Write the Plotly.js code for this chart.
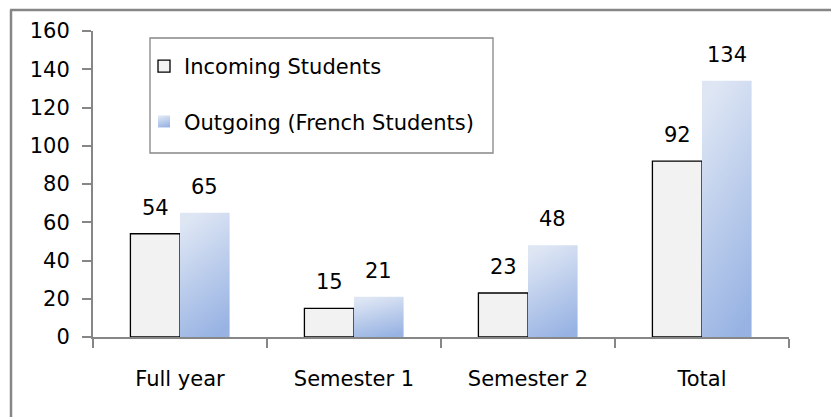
<!DOCTYPE html>
<html>
<head>
<meta charset="utf-8">
<script src="https://cdn.plot.ly/plotly-3.0.1.min.js"></script>
<style>
html,body{margin:0;padding:0;background:#fff;}
#chart{width:831px;height:417px;}
</style>
</head>
<body>
<div id="chart"></div>
<script>
const categories = ["Full year", "Semester 1", "Semester 2", "Total"];
const incoming = [54, 15, 23, 92];
const outgoing = [65, 21, 48, 134];
const seriesNames = ["Incoming Students", "Outgoing (French Students)"];
const yTicks = [0, 20, 40, 60, 80, 100, 120, 140, 160];

const FONT = "'DejaVu Sans', sans-serif";
const FS = 21;
const AXIS_GRAY = "#868686";

const traces = [
  {
    type: "bar", name: seriesNames[0], x: categories, y: incoming,
    legendgroup: "a",
    marker: {color: "#f2f2f2", line: {color: "#000000", width: 1.3}},
    hoverinfo: "skip"
  },
  {
    type: "bar", name: seriesNames[1], x: categories, y: outgoing,
    legendgroup: "b",
    marker: {color: "#bccbec", line: {width: 0}},
    hoverinfo: "skip"
  }
];

const annotations = [];
const barShift = 24.75;
[incoming, outgoing].forEach((vals, si) => {
  vals.forEach((v, i) => {
    annotations.push({
      x: categories[i], y: v, xref: "x", yref: "y",
      text: String(v), showarrow: false,
      yanchor: "bottom", yshift: 12,
      xshift: si === 0 ? -barShift : barShift,
      font: {family: FONT, size: FS, color: "#000"}
    });
  });
});

const L = 93, R = 789, T = 31, B = 337;
const px2x = p => (p - L) / (R - L);
const px2y = p => (B - p) / (B - T);

const layout = {
  width: 831, height: 417,
  margin: {l: L, r: 831 - R, t: T, b: 417 - B},
  paper_bgcolor: "#ffffff", plot_bgcolor: "#ffffff",
  font: {family: FONT, size: FS, color: "#000"},
  barmode: "group", bargap: 0.43, bargroupgap: 0,
  showlegend: true,
  legend: {
    x: px2x(144), y: px2y(46), xanchor: "left", yanchor: "top",
    borderwidth: 0, bgcolor: "rgba(0,0,0,0)",
    traceorder: "grouped", tracegroupgap: 25,
    font: {family: FONT, size: FS, color: "#000"},
    itemwidth: 30
  },
  xaxis: {
    type: "category", showline: true, linecolor: AXIS_GRAY, linewidth: 2,
    ticks: "outside", tickson: "boundaries", ticklen: 9, tickwidth: 2, tickcolor: AXIS_GRAY,
    showgrid: false, zeroline: false, ticklabelstandoff: 22,
    tickfont: {family: FONT, size: FS, color: "#000"}
  },
  yaxis: {
    range: [0, 160], tickvals: yTicks, ticktext: yTicks.map(String),
    showline: true, linecolor: AXIS_GRAY, linewidth: 2,
    ticks: "outside", ticklen: 9, tickwidth: 2, tickcolor: AXIS_GRAY,
    showgrid: false, zeroline: false, ticklabelstandoff: 8,
    tickfont: {family: FONT, size: FS, color: "#000"}
  },
  annotations: annotations,
  shapes: [
    {type: "line", xref: "paper", yref: "paper", x0: px2x(11), x1: px2x(11), y0: px2y(10), y1: px2y(420),
     line: {color: AXIS_GRAY, width: 2.5}},
    {type: "line", xref: "paper", yref: "paper", x0: px2x(10), x1: px2x(835), y0: px2y(10), y1: px2y(10),
     line: {color: AXIS_GRAY, width: 2.5}},
    {type: "rect", xref: "paper", yref: "paper", x0: px2x(150), x1: px2x(493), y0: px2y(153), y1: px2y(38),
     line: {color: AXIS_GRAY, width: 1.3}, fillcolor: "#ffffff", layer: "below"}
  ]
};

Plotly.newPlot("chart", traces, layout, {staticPlot: true}).then(gd => {
  const svg = gd.querySelector("svg.main-svg");
  const NS = "http://www.w3.org/2000/svg";
  let defs = svg.querySelector("defs");
  if (!defs) { defs = document.createElementNS(NS, "defs"); svg.insertBefore(defs, svg.firstChild); }
  const grad = document.createElementNS(NS, "linearGradient");
  grad.setAttribute("id", "outGrad");
  grad.setAttribute("x1", "0.35"); grad.setAttribute("y1", "0");
  grad.setAttribute("x2", "0.65"); grad.setAttribute("y2", "1");
  [["0", "#dee6f4"], ["1", "#98b3e3"]].forEach(([o, c]) => {
    const s = document.createElementNS(NS, "stop");
    s.setAttribute("offset", o); s.setAttribute("stop-color", c);
    grad.appendChild(s);
  });
  defs.appendChild(grad);
  const barTraces = gd.querySelectorAll(".barlayer .trace");
  if (barTraces[1]) barTraces[1].querySelectorAll("path").forEach(p => { p.style.fill = "url(#outGrad)"; });
  const legTraces = gd.querySelectorAll(".legend .traces");
  if (legTraces[1]) legTraces[1].querySelectorAll(".legendpoints path").forEach(p => { p.style.fill = "url(#outGrad)"; });
});
</script>
</body>
</html>
